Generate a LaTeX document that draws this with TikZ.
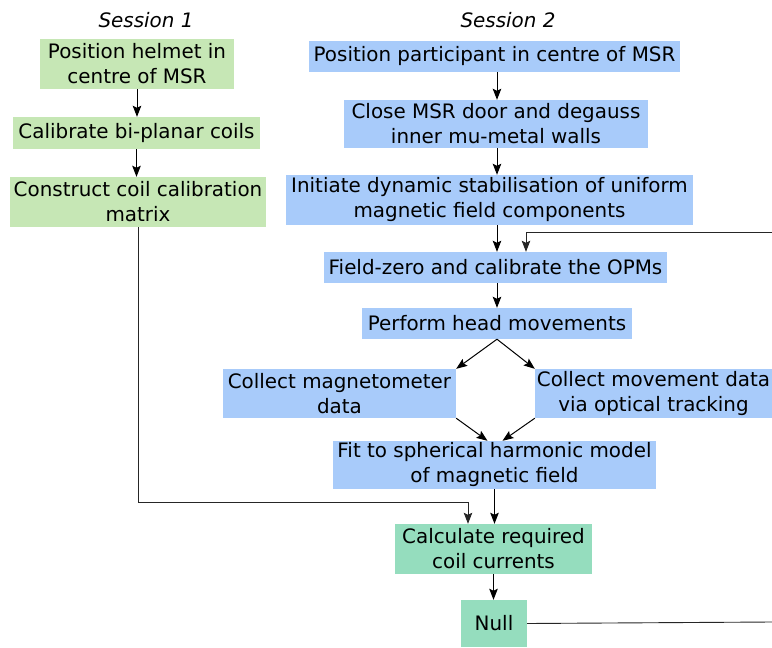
\documentclass[tikz,border=0pt]{standalone}
\usepackage{fontspec}
\setmainfont{DejaVu Sans}
\usetikzlibrary{arrows.meta}
\definecolor{sesgreen}{RGB}{198,231,181}
\definecolor{sesblue}{RGB}{168,203,250}
\definecolor{nullgreen}{RGB}{149,221,190}
\tikzset{
  stepbox/.style={fill=#1, inner sep=0pt, align=center, font=\fontsize{19.9}{25}\selectfont},
  arr/.style={line width=1pt, -{Stealth[length=11pt,width=8.5pt,inset=2pt]}},
  longarr/.style={line width=0.9pt, draw=black!85, -{Stealth[length=11pt,width=8.5pt,inset=2pt]}}
}

\begin{document}
\begin{tikzpicture}[x=1pt,y=-1pt]
  %tikz  flow chart, two sessions
    \useasboundingbox (0,0) rectangle (772,648);
    \node[font=\fontsize{19.9}{25}\selectfont\itshape] (ses1) at (146,20) {Session 1};
    \node[font=\fontsize{19.9}{25}\selectfont\itshape] (ses2) at (508,20) {Session 2};
    % session 1
    \node[stepbox=sesgreen, minimum width=194, minimum height=50] (p1) at (137,64) {Position helmet in\\centre of MSR};
    \node[stepbox=sesgreen, minimum width=247, minimum height=32] (cal) at (136.5,133) {Calibrate bi-planar coils};
    \node[stepbox=sesgreen, minimum width=256, minimum height=50] (mat) at (138,202) {Construct coil calibration\\matrix};
    % session 2
    \node[stepbox=sesblue, minimum width=371, minimum height=31] (p2) at (494.5,56.5) {Position participant in centre of MSR};
    \node[stepbox=sesblue, minimum width=304, minimum height=48] (door) at (496,124) {Close MSR door and degauss\\inner mu-metal walls};
    \node[stepbox=sesblue, minimum width=407, minimum height=50] (stab) at (489.5,200) {Initiate dynamic stabilisation of uniform\\magnetic field components};
    \node[stepbox=sesblue, minimum width=343, minimum height=31] (field) at (495.5,267.5) {Field-zero and calibrate the OPMs};
    \node[stepbox=sesblue, minimum width=270, minimum height=31] (perform) at (497,323.5) {Perform head movements};
    \node[stepbox=sesblue, minimum width=233, minimum height=49] (mag) at (339.5,393.5) {Collect magnetometer\\data};
    \node[stepbox=sesblue, minimum width=237, minimum height=49] (move) at (653.5,393.5) {Collect movement data\\via optical tracking};
    \node[stepbox=sesblue, minimum width=323, minimum height=48] (fit) at (494.5,465) {Fit to spherical harmonic model\\of magnetic field};
    \node[stepbox=nullgreen, minimum width=197, minimum height=50] (calc) at (493.5,549) {Calculate required\\coil currents};
    \node[stepbox=nullgreen, minimum width=66, minimum height=47] (null) at (494,623.5) {Null};
    \coordinate (bend) at (468,502);
    \coordinate (edgetop) at (772,232);
    \coordinate (edgebot) at (772,622);

    \foreach \a/\b in {p1/cal, cal/mat}{
      \draw[arr] (\a.south) -- (\a.south |- \b.north);
    }
    \foreach \a/\b in {p2/door, door/stab, stab/field, field/perform}{
      \draw[arr] (\a.south -| perform) -- (\b.north -| perform);
    }
    \draw[arr] (perform.south) -- (mag.north east);
    \draw[arr] (perform.south) -- (move.north west);
    \draw[arr] (mag.south east) -- ([xshift=-7pt]fit.north);
    \draw[arr] (move.south west) -- ([xshift=8pt]fit.north);
    \draw[arr] (fit.south) -- (fit.south |- calc.north);
    \draw[arr] (calc.south) -- (calc.south |- null.north);
    \draw[longarr] (mat.south) |- (bend) -- (bend |- calc.north);
    \draw[longarr] (edgetop) -| ([xshift=30.5pt]field.north);
    \draw[line width=0.9pt, draw=black!85] (null.east) -- (edgebot);
  \end{tikzpicture}
\end{document}
